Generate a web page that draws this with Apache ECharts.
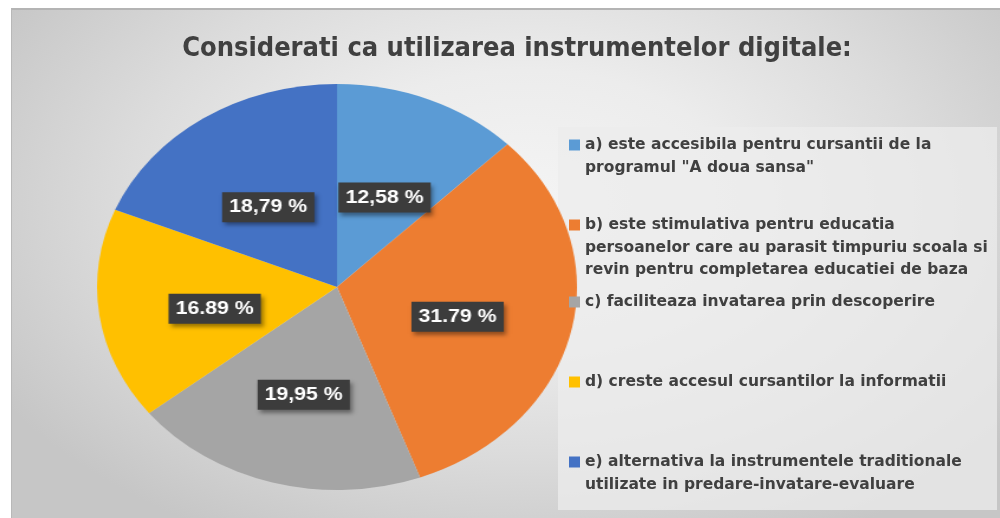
<!DOCTYPE html>
<html>
<head>
<meta charset="utf-8">
<script src="https://cdn.jsdelivr.net/npm/echarts@6/dist/echarts.min.js"></script>
<style>
  html, body { margin:0; padding:0; width:1000px; height:518px; background:#ffffff; overflow:hidden; }
  #bg { position:absolute; left:11px; top:8px; width:989px; height:510px;
        border-top:2px solid #b4b4b4; border-left:1px solid #b8b8b8; box-sizing:border-box;
        background: radial-gradient(ellipse 62% 75% at 52% 38%, #f4f4f4 0%, #ececec 35%, #dcdcdc 65%, #c6c6c6 100%); }
  #panel { position:absolute; left:558px; top:127px; width:439px; height:383px;
           background: rgba(236,236,236,0.75); }
  #pie { position:absolute; left:127px; top:77px; width:420px; height:420px;
         transform: scaleX(1.182); transform-origin: 50% 50%; }
  #main { position:absolute; left:0; top:0; width:1000px; height:518px; }
</style>
</head>
<body>
<div id="bg"></div>
<div id="panel"></div>
<div id="pie"></div>
<div id="main"></div>
<script>
// ---- data ----
const titleText = 'Considerati ca utilizarea instrumentelor digitale:';
const categories = [
  'a) este accesibila pentru cursantii de la\nprogramul "A doua sansa"',
  'b) este stimulativa pentru educatia\npersoanelor care au parasit timpuriu scoala si\nrevin pentru completarea educatiei de baza',
  'c) faciliteaza invatarea prin descoperire',
  'd) creste accesul cursantilor la informatii',
  'e) alternativa la instrumentele traditionale\nutilizate in predare-invatare-evaluare'
];
const values = [12.58, 31.79, 19.95, 16.89, 18.79];
const valueLabels = ['12,58 %', '31.79 %', '19,95 %', '16.89 %', '18,79 %'];
const colors = ['#5B9BD5', '#ED7D31', '#A5A5A5', '#FFC000', '#4472C4'];

// ---- pie (stretched horizontally to match the elliptical original) ----
const pieData = categories.map((c, i) => ({ name: c, value: values[i], itemStyle: { color: colors[i] } }));
const pieChart = echarts.init(document.getElementById('pie'), null, { renderer: 'canvas' });
pieChart.setOption({
  animation: false,
  series: [{
    type: 'pie',
    center: ['50%', '50%'],
    radius: 203,
    startAngle: 90,
    clockwise: true,
    silent: true,
    itemStyle: { borderWidth: 0 },
    label: {
      show: true,
      position: 'inside',
      offset: [0, 7],
      formatter: p => valueLabels[p.dataIndex],
      color: '#ffffff',
      fontFamily: "'Liberation Sans', Arial, sans-serif",
      fontWeight: 'bold',
      fontSize: 18,
      backgroundColor: '#3c3c3c',
      padding: [6, 6, 6, 6],
      shadowColor: 'rgba(0,0,0,0.4)',
      shadowBlur: 4,
      shadowOffsetX: 2,
      shadowOffsetY: 3
    },
    labelLine: { show: false },
    data: pieData
  }]
});

// ---- title + legend (unstretched) ----
const lineH = 22.5;
const firstLineCenters = [145, 225, 302, 382, 462];
const legends = categories.map((c, i) => {
  const n = c.split('\n').length;
  const pad = n - 1;                  // empty lines above so first line sits at the icon
  const total = n + pad;
  return {
    data: [c],
    orient: 'vertical',
    left: 569,
    top: firstLineCenters[i] - total * lineH / 2,
    padding: 0,
    itemWidth: 11,
    itemHeight: 11,
    itemGap: 0,
    icon: 'rect',
    selectedMode: false,
    formatter: name => '\n'.repeat(pad) + name,
    textStyle: {
      color: '#404040',
      fontFamily: "'DejaVu Sans', Verdana, sans-serif",
      fontWeight: 'bold',
      fontSize: 15.5,
      lineHeight: lineH
    }
  };
});

const mainChart = echarts.init(document.getElementById('main'), null, { renderer: 'canvas' });
mainChart.setOption({
  animation: false,
  title: {
    text: titleText,
    left: 512,
    top: 30,
    textAlign: 'center',
    textStyle: {
      color: '#404040',
      fontFamily: "'Liberation Sans Narrow', 'DejaVu Sans Condensed', sans-serif",
      fontWeight: 'bold',
      fontSize: 27
    }
  },
  legend: legends,
  series: [{
    type: 'pie',
    radius: [0, 0],
    center: [-100, -100],
    silent: true,
    label: { show: false },
    labelLine: { show: false },
    data: pieData
  }]
});
</script>
</body>
</html>
